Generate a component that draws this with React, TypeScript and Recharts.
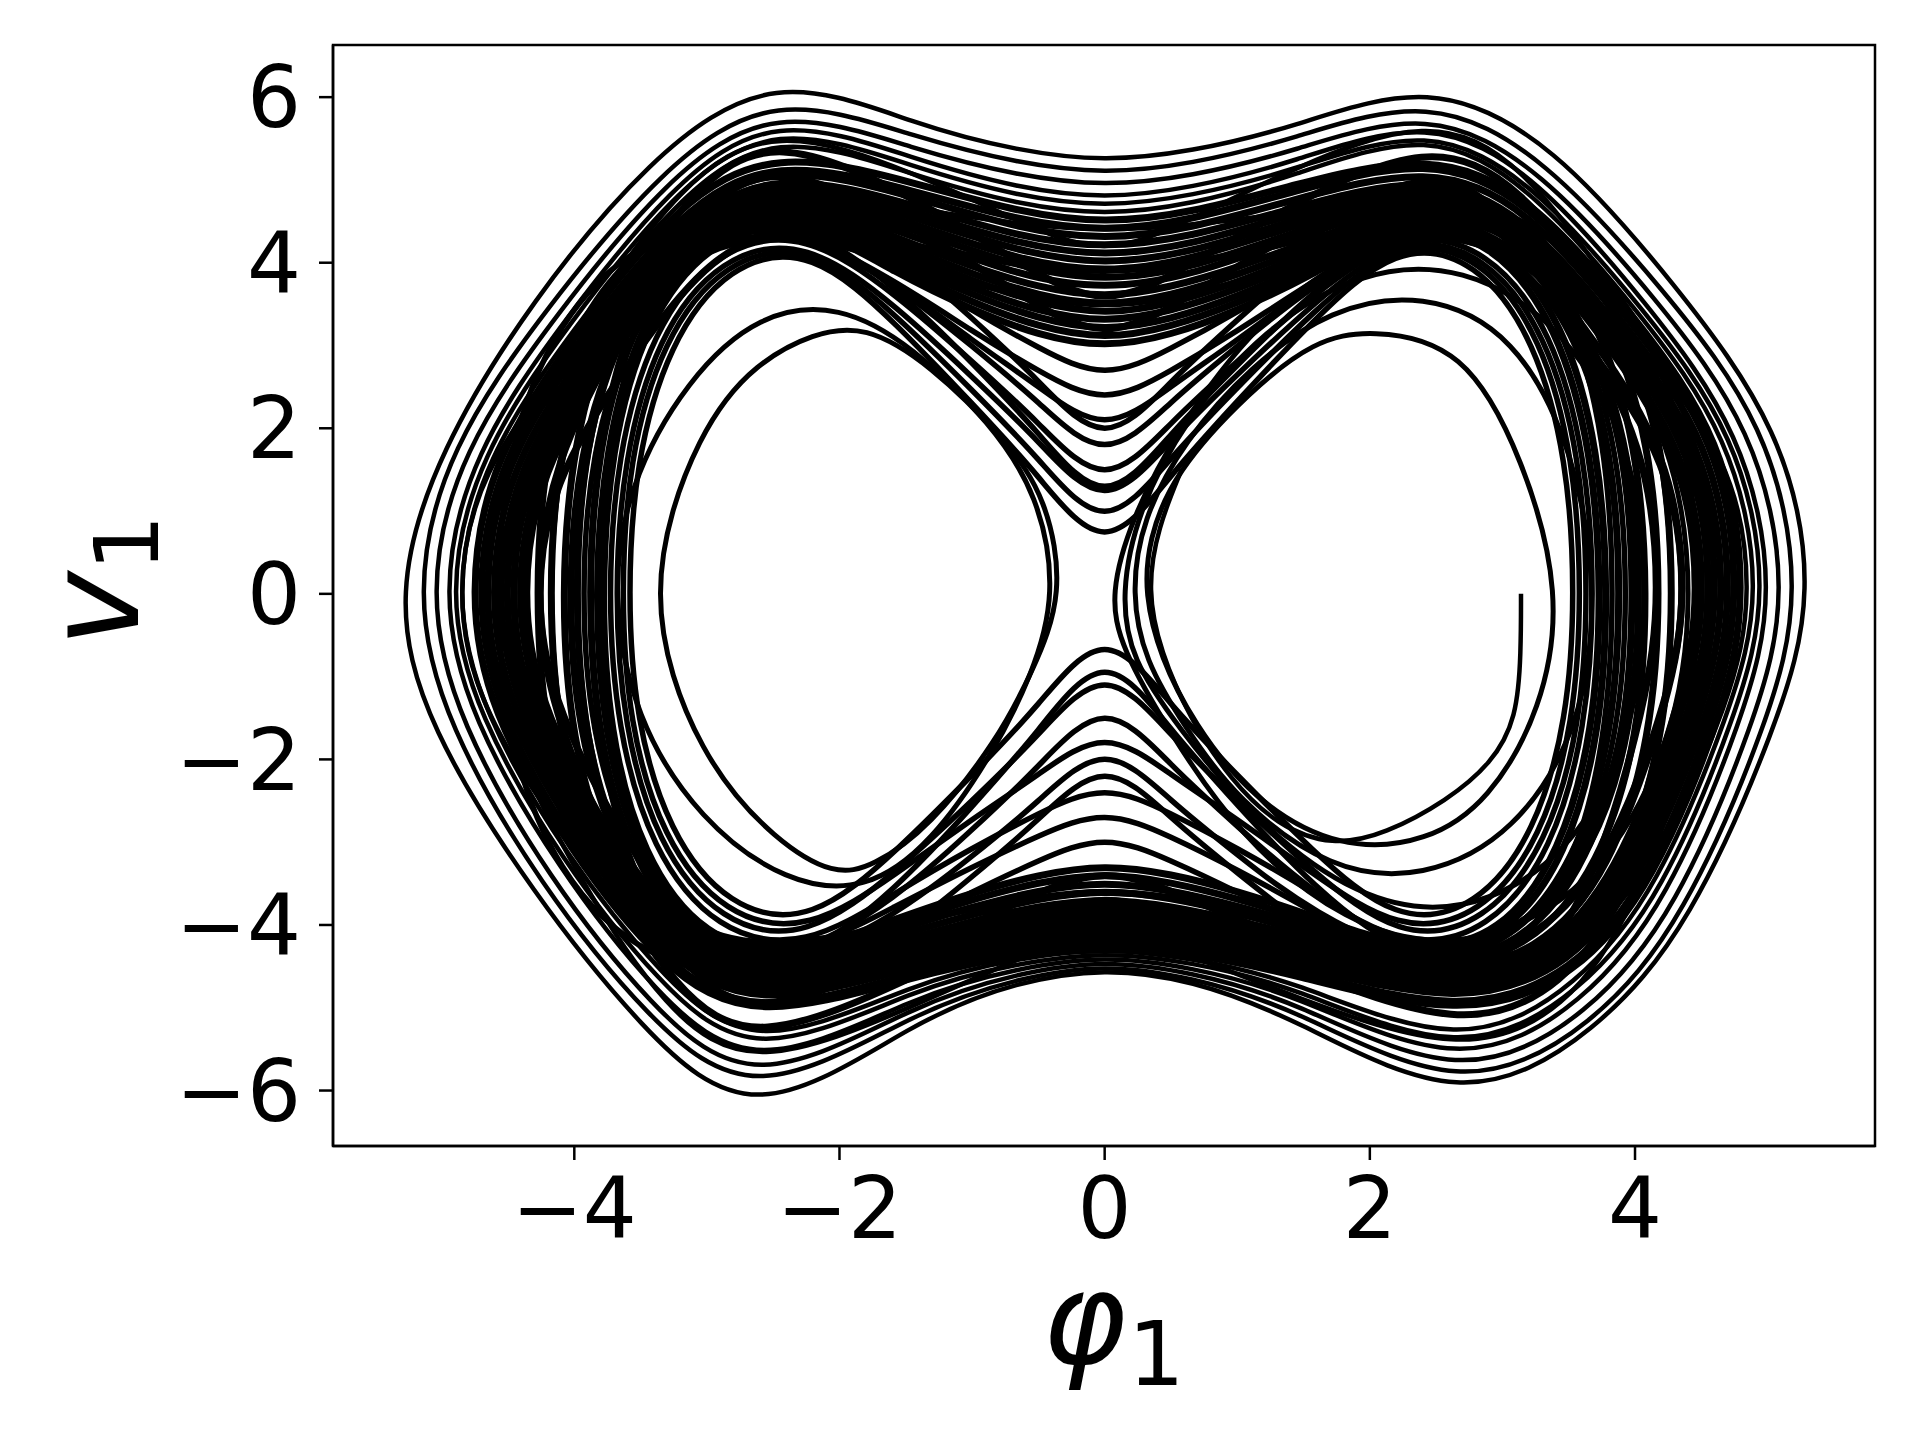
import React from 'react';
import { LineChart, Line, XAxis, YAxis, ReferenceArea, Customized } from 'recharts';

type Pt = [number, number];

// axis setup
const X_DOMAIN: [number, number] = [-5.82, 5.81];
const Y_DOMAIN: [number, number] = [-6.67, 6.63];
const xTicks = [-4, -2, 0, 2, 4];
const yTicks = [-6, -4, -2, 0, 2, 4, 6];

// trajectory loops, [phi1, v1] control points
const loop01: Pt[] = [[5.37,0],[5.12,2.0],[4.3,3.75],[3.39,5.45],[2.45,6.23],[1.4,5.62],[0.65,5.34],[0,5.22],[-0.65,5.35],[-1.4,5.65],[-2.5,6.35],[-3.45,5.25],[-4.32,3.55],[-5.02,1.75],[-5.37,0],[-5.12,-1.6],[-4.3,-3.65],[-3.5,-5.25],[-2.65,-6.48],[-1.4,-5.12],[-0.65,-4.68],[0,-4.52],[0.65,-4.66],[1.4,-5.1],[2.7,-6.25],[3.72,-5.3],[4.42,-4.0],[5.07,-1.6]];
const loop02: Pt[] = [[5.27,0],[5.01,2.05],[4.21,3.69],[3.33,5.27],[2.45,6.05],[1.4,5.48],[0.65,5.19],[0,5.07],[-0.65,5.2],[-1.4,5.5],[-2.5,6.1],[-3.35,5.13],[-4.2,3.48],[-4.96,1.77],[-5.22,0],[-4.97,-1.59],[-4.25,-3.54],[-3.45,-5.13],[-2.65,-6.2],[-1.4,-5.02],[-0.65,-4.64],[0,-4.47],[0.65,-4.63],[1.4,-4.98],[2.7,-6.1],[3.7,-5.22],[4.37,-3.94],[5.0,-1.57]];
const loop03: Pt[] = [[5.17,0],[4.91,2.0],[4.15,3.59],[3.3,5.13],[2.45,5.9],[1.4,5.33],[0.65,5.04],[0,4.92],[-0.65,5.05],[-1.4,5.35],[-2.5,5.95],[-3.32,5.0],[-4.13,3.39],[-4.87,1.73],[-5.12,0],[-4.88,-1.55],[-4.19,-3.45],[-3.42,-5.0],[-2.65,-6.05],[-1.4,-4.93],[-0.65,-4.58],[0,-4.42],[0.65,-4.57],[1.4,-4.89],[2.7,-5.95],[3.66,-5.09],[4.31,-3.84],[4.91,-1.53]];
const loop04: Pt[] = [[5.07,0],[4.82,1.96],[4.08,3.53],[3.27,5.04],[2.45,5.8],[1.4,5.2],[0.65,4.9],[0,4.77],[-0.65,4.9],[-1.4,5.23],[-2.5,5.85],[-3.28,4.92],[-4.07,3.33],[-4.78,1.7],[-5.02,0],[-4.79,-1.5],[-4.12,-3.33],[-3.39,-4.83],[-2.65,-5.85],[-1.4,-4.83],[-0.65,-4.52],[0,-4.37],[0.65,-4.51],[1.4,-4.81],[2.7,-5.8],[3.62,-4.95],[4.24,-3.74],[4.82,-1.49]];
const loop05: Pt[] = [[5.02,0],[4.78,1.93],[4.05,3.47],[3.25,4.95],[2.45,5.7],[1.4,5.1],[0.65,4.8],[0,4.67],[-0.65,4.8],[-1.4,5.13],[-2.5,5.75],[-3.27,4.83],[-4.04,3.27],[-4.73,1.67],[-4.97,0],[-4.74,-1.46],[-4.09,-3.24],[-3.37,-4.7],[-2.65,-5.7],[-1.4,-4.74],[-0.65,-4.46],[0,-4.32],[0.65,-4.45],[1.4,-4.72],[2.7,-5.65],[3.6,-4.82],[4.21,-3.64],[4.77,-1.44]];
const loop06: Pt[] = [[4.97,0],[4.73,1.91],[4.02,3.43],[3.23,4.9],[2.45,5.65],[1.4,5.03],[0.65,4.7],[0,4.57],[-0.65,4.7],[-1.4,5.03],[-2.5,5.65],[-3.25,4.74],[-4.0,3.22],[-4.69,1.64],[-4.92,0],[-4.7,-1.43],[-4.06,-3.18],[-3.35,-4.61],[-2.65,-5.6],[-1.4,-4.67],[-0.65,-4.4],[0,-4.27],[0.65,-4.4],[1.4,-4.65],[2.7,-5.55],[3.58,-4.73],[4.17,-3.57],[4.72,-1.42]];
const loop32: Pt[] = [[4.9,0],[4.73,1.68],[4.02,3.02],[3.23,4.32],[2.45,4.8],[1.4,4.6],[0.65,4.45],[0,4.38],[-0.65,4.46],[-1.4,4.65],[-2.5,4.9],[-3.27,4.26],[-4.04,2.89],[-4.73,1.47],[-4.9,0],[-4.74,-1.32],[-4.09,-2.94],[-3.37,-4.26],[-2.65,-4.9],[-1.4,-4.52],[-0.65,-4.36],[0,-4.3],[0.65,-4.35],[1.4,-4.5],[2.7,-4.8],[3.58,-4.32],[4.17,-3.26],[4.72,-1.3]];
const loop36: Pt[] = [[4.65,0],[4.5,2.03],[3.86,3.65],[3.15,5.22],[2.45,5.8],[1.4,5.13],[0.65,4.52],[0,4.05],[-0.65,4.5],[-1.4,5.07],[-2.5,5.7],[-3.2,4.96],[-3.91,3.36],[-4.55,1.71],[-4.7,0],[-4.56,-1.57],[-3.96,-3.48],[-3.31,-5.05],[-2.65,-5.8],[-1.4,-4.95],[-0.65,-4.41],[0,-3.96],[0.65,-4.37],[1.4,-4.85],[2.7,-5.6],[3.48,-5.04],[4.01,-3.81],[4.49,-1.51]];

const loop07: Pt[] = [[4.85,0],[4.68,1.87],[3.99,3.37],[3.22,4.82],[2.45,5.35],[1.4,4.93],[0.65,4.6],[0,4.47],[-0.65,4.61],[-1.4,4.95],[-2.5,5.4],[-3.24,4.7],[-3.97,3.19],[-4.64,1.62],[-4.8,0],[-4.65,-1.4],[-4.03,-3.12],[-3.34,-4.52],[-2.65,-5.2],[-1.4,-4.6],[-0.65,-4.35],[0,-4.22],[0.65,-4.34],[1.4,-4.58],[2.7,-5.15],[3.56,-4.64],[4.14,-3.5],[4.68,-1.39]];
const loop08: Pt[] = [[4.8,0],[4.64,1.86],[3.95,3.34],[3.2,4.77],[2.45,5.3],[1.4,4.85],[0.65,4.51],[0,4.37],[-0.65,4.51],[-1.4,4.85],[-2.5,5.3],[-3.22,4.61],[-3.94,3.13],[-4.59,1.59],[-4.75,0],[-4.6,-1.39],[-4.0,-3.09],[-3.32,-4.48],[-2.65,-5.15],[-1.4,-4.55],[-0.65,-4.3],[0,-4.17],[0.65,-4.29],[1.4,-4.53],[2.7,-5.1],[3.54,-4.59],[4.11,-3.47],[4.63,-1.38]];
const loop09: Pt[] = [[4.75,0],[4.59,1.82],[3.92,3.28],[3.19,4.68],[2.45,5.2],[1.4,4.75],[0.65,4.41],[0,4.27],[-0.65,4.41],[-1.4,4.78],[-2.5,5.25],[-3.2,4.57],[-3.91,3.1],[-4.55,1.58],[-4.7,0],[-4.56,-1.36],[-3.96,-3.03],[-3.31,-4.39],[-2.65,-5.05],[-1.4,-4.48],[-0.65,-4.24],[0,-4.12],[0.65,-4.24],[1.4,-4.46],[2.7,-5.0],[3.52,-4.5],[4.07,-3.4],[4.59,-1.35]];
const loop10: Pt[] = [[4.7,0],[4.54,1.79],[3.89,3.21],[3.17,4.59],[2.45,5.1],[1.4,4.65],[0.65,4.31],[0,4.17],[-0.65,4.31],[-1.4,4.68],[-2.5,5.15],[-3.19,4.48],[-3.88,3.04],[-4.5,1.55],[-4.65,0],[-4.51,-1.35],[-3.93,-3.0],[-3.29,-4.35],[-2.65,-5.0],[-1.4,-4.43],[-0.65,-4.19],[0,-4.07],[0.65,-4.19],[1.4,-4.41],[2.7,-4.95],[3.5,-4.46],[4.04,-3.37],[4.54,-1.34]];
const loop11: Pt[] = [[4.65,0],[4.5,1.77],[3.86,3.18],[3.15,4.55],[2.45,5.05],[1.4,4.58],[0.65,4.21],[0,4.07],[-0.65,4.22],[-1.4,4.6],[-2.5,5.1],[-3.17,4.44],[-3.84,3.01],[-4.45,1.53],[-4.6,0],[-4.46,-1.34],[-3.9,-2.97],[-3.27,-4.31],[-2.65,-4.95],[-1.4,-4.38],[-0.65,-4.14],[0,-4.02],[0.65,-4.14],[1.4,-4.36],[2.7,-4.9],[3.48,-4.41],[4.01,-3.33],[4.49,-1.32]];
const loop12: Pt[] = [[4.6,0],[4.45,1.75],[3.83,3.15],[3.14,4.5],[2.45,5.0],[1.4,4.5],[0.65,4.12],[0,3.97],[-0.65,4.13],[-1.4,4.53],[-2.5,5.05],[-3.16,4.39],[-3.81,2.98],[-4.41,1.52],[-4.55,0],[-4.42,-1.32],[-3.87,-2.94],[-3.26,-4.26],[-2.65,-4.9],[-1.4,-4.33],[-0.65,-4.09],[0,-3.97],[0.65,-4.09],[1.4,-4.31],[2.7,-4.85],[3.46,-4.37],[3.97,-3.3],[4.45,-1.31]];
const loop13: Pt[] = [[4.55,0],[4.4,1.73],[3.79,3.12],[3.12,4.46],[2.45,4.95],[1.4,4.43],[0.65,4.03],[0,3.87],[-0.65,4.03],[-1.4,4.45],[-2.5,5.0],[-3.14,4.35],[-3.78,2.95],[-4.36,1.5],[-4.5,0],[-4.37,-1.31],[-3.83,-2.91],[-3.24,-4.22],[-2.65,-4.85],[-1.4,-4.28],[-0.65,-4.04],[0,-3.92],[0.65,-4.04],[1.4,-4.26],[2.7,-4.8],[3.44,-4.32],[3.94,-3.26],[4.4,-1.3]];
const loop14: Pt[] = [[4.5,0],[4.36,1.72],[3.76,3.09],[3.11,4.41],[2.45,4.9],[1.4,4.35],[0.65,3.93],[0,3.77],[-0.65,3.94],[-1.4,4.38],[-2.5,4.95],[-3.12,4.31],[-3.75,2.92],[-4.31,1.49],[-4.45,0],[-4.32,-1.3],[-3.8,-2.88],[-3.23,-4.18],[-2.65,-4.8],[-1.4,-4.23],[-0.65,-3.99],[0,-3.87],[0.65,-3.99],[1.4,-4.21],[2.7,-4.75],[3.42,-4.28],[3.91,-3.23],[4.36,-1.28]];
const loop15: Pt[] = [[4.4,0],[4.26,1.7],[3.7,3.06],[3.07,4.37],[2.45,4.85],[1.4,4.28],[0.65,3.84],[0,3.67],[-0.65,3.84],[-1.4,4.3],[-2.5,4.9],[-3.11,4.26],[-3.72,2.89],[-4.27,1.47],[-4.4,0],[-4.28,-1.28],[-3.77,-2.85],[-3.21,-4.13],[-2.65,-4.75],[-1.4,-4.18],[-0.65,-3.94],[0,-3.82],[0.65,-3.94],[1.4,-4.16],[2.7,-4.7],[3.38,-4.23],[3.84,-3.2],[4.26,-1.27]];
const loop16: Pt[] = [[4.3,0],[4.22,1.82],[3.89,3.46],[3.27,4.56],[2.43,4.8],[1.55,4.26],[1.0,3.94],[0.5,3.7],[0,3.57],[-0.5,3.7],[-1.0,3.95],[-1.55,4.29],[-2.43,4.85],[-3.27,4.61],[-3.89,3.49],[-4.22,1.84],[-4.3,0],[-4.22,-1.79],[-3.91,-3.38],[-3.33,-4.47],[-2.53,-4.7],[-1.55,-4.3],[-1.0,-4.05],[-0.5,-3.87],[0,-3.77],[0.5,-3.87],[1.0,-4.04],[1.55,-4.27],[2.53,-4.65],[3.33,-4.42],[3.91,-3.35],[4.22,-1.77]];
const loop17: Pt[] = [[4.2,0],[4.12,1.81],[3.8,3.42],[3.21,4.51],[2.4,4.75],[1.55,4.19],[1.0,3.85],[0.5,3.6],[0,3.47],[-0.5,3.6],[-1.0,3.86],[-1.55,4.22],[-2.4,4.8],[-3.21,4.56],[-3.8,3.46],[-4.12,1.82],[-4.2,0],[-4.12,-1.77],[-3.83,-3.35],[-3.27,-4.42],[-2.5,-4.65],[-1.55,-4.25],[-1.0,-4.0],[-0.5,-3.82],[0,-3.72],[0.5,-3.82],[1.0,-3.99],[1.55,-4.22],[2.5,-4.6],[3.27,-4.37],[3.83,-3.31],[4.12,-1.75]];
const loop18: Pt[] = [[4.1,0],[4.02,1.79],[3.72,3.38],[3.15,4.47],[2.37,4.7],[1.55,4.12],[1.0,3.76],[0.5,3.5],[0,3.37],[-0.5,3.51],[-1.0,3.78],[-1.55,4.14],[-2.37,4.75],[-3.15,4.51],[-3.72,3.42],[-4.02,1.81],[-4.1,0],[-4.03,-1.75],[-3.74,-3.31],[-3.2,-4.37],[-2.47,-4.6],[-1.55,-4.2],[-1.0,-3.95],[-0.5,-3.77],[0,-3.67],[0.5,-3.77],[1.0,-3.94],[1.55,-4.17],[2.47,-4.55],[3.2,-4.32],[3.74,-3.28],[4.03,-1.73]];
const loop19: Pt[] = [[4.0,0],[3.93,1.77],[3.63,3.35],[3.09,4.42],[2.34,4.65],[1.55,4.04],[1.0,3.68],[0.5,3.41],[0,3.27],[-0.5,3.41],[-1.0,3.69],[-1.55,4.07],[-2.34,4.7],[-3.09,4.47],[-3.63,3.38],[-3.93,1.79],[-4.0,0],[-3.93,-1.73],[-3.66,-3.28],[-3.14,-4.32],[-2.44,-4.55],[-1.55,-4.12],[-1.0,-3.87],[-0.5,-3.68],[0,-3.57],[0.5,-3.67],[1.0,-3.85],[1.55,-4.1],[2.44,-4.5],[3.14,-4.28],[3.66,-3.24],[3.93,-1.71]];
const loop20: Pt[] = [[3.9,0],[3.83,1.75],[3.55,3.31],[3.03,4.37],[2.31,4.6],[1.55,3.97],[1.0,3.59],[0.5,3.31],[0,3.17],[-0.5,3.32],[-1.0,3.61],[-1.55,4.0],[-2.31,4.65],[-3.03,4.42],[-3.55,3.35],[-3.83,1.77],[-3.9,0],[-3.83,-1.71],[-3.57,-3.24],[-3.08,-4.28],[-2.41,-4.5],[-1.55,-4.05],[-1.0,-3.78],[-0.5,-3.58],[0,-3.47],[0.5,-3.58],[1.0,-3.77],[1.55,-4.02],[2.41,-4.45],[3.08,-4.23],[3.57,-3.2],[3.83,-1.69]];
const loop21: Pt[] = [[3.8,0],[3.73,1.73],[3.47,3.28],[2.96,4.32],[2.28,4.55],[1.55,3.9],[1.0,3.51],[0.5,3.22],[0,3.07],[-0.5,3.22],[-1.0,3.52],[-1.55,3.93],[-2.29,4.6],[-2.99,4.37],[-3.51,3.31],[-3.77,1.75],[-3.85,0],[-3.78,-1.69],[-3.53,-3.2],[-3.05,-4.23],[-2.39,-4.45],[-1.55,-3.98],[-1.0,-3.69],[-0.5,-3.48],[0,-3.37],[0.5,-3.48],[1.0,-3.68],[1.55,-3.95],[2.38,-4.4],[3.02,-4.18],[3.49,-3.17],[3.74,-1.67]];
const loop22: Pt[] = [[3.75,0],[3.68,1.71],[3.42,3.24],[2.93,4.28],[2.26,4.5],[1.55,3.83],[1.0,3.42],[0.5,3.12],[0,2.97],[-0.5,3.12],[-1.0,3.43],[-1.55,3.85],[-2.28,4.55],[-2.96,4.32],[-3.47,3.28],[-3.73,1.73],[-3.8,0],[-3.74,-1.67],[-3.49,-3.17],[-3.02,-4.18],[-2.38,-4.4],[-1.55,-3.91],[-1.0,-3.61],[-0.5,-3.39],[0,-3.27],[0.5,-3.38],[1.0,-3.59],[1.55,-3.88],[2.36,-4.35],[2.99,-4.13],[3.44,-3.13],[3.69,-1.65]];
const loop31: Pt[] = [[4.6,0],[4.45,1.93],[3.83,3.47],[3.14,4.95],[2.45,5.5],[1.4,4.7],[0.65,3.98],[0,3.4],[-0.65,4.0],[-1.4,4.76],[-2.5,5.6],[-3.14,4.87],[-3.78,3.3],[-4.36,1.68],[-4.5,0],[-4.37,-1.49],[-3.83,-3.3],[-3.24,-4.79],[-2.65,-5.5],[-1.4,-4.6],[-0.65,-4.02],[0,-3.55],[0.65,-3.99],[1.4,-4.5],[2.7,-5.3],[3.46,-4.77],[3.97,-3.6],[4.45,-1.43]];
const loop33: Pt[] = [[4.2,0],[4.08,1.82],[3.57,3.28],[3.01,4.68],[2.45,5.2],[1.4,4.36],[0.65,3.6],[0,3.0],[-0.65,3.62],[-1.4,4.42],[-2.5,5.3],[-3.08,4.61],[-3.65,3.13],[-4.17,1.59],[-4.3,0],[-4.18,-1.4],[-3.71,-3.12],[-3.18,-4.52],[-2.65,-5.2],[-1.4,-4.3],[-0.65,-3.72],[0,-3.25],[0.65,-3.69],[1.4,-4.2],[2.7,-5.0],[3.3,-4.5],[3.71,-3.4],[4.08,-1.35]];
const loop34: Pt[] = [[4.4,0],[4.26,1.61],[3.7,2.9],[3.07,4.14],[2.45,4.6],[1.4,4.25],[0.65,3.98],[0,3.87],[-0.65,3.97],[-1.4,4.2],[-2.5,4.5],[-3.08,3.92],[-3.65,2.66],[-4.17,1.35],[-4.3,0],[-4.18,-1.24],[-3.71,-2.76],[-3.18,-4.0],[-2.65,-4.6],[-1.4,-4.22],[-0.65,-4.06],[0,-3.98],[0.65,-4.05],[1.4,-4.19],[2.7,-4.5],[3.38,-4.05],[3.84,-3.06],[4.26,-1.22]];
const loop37: Pt[] = [[4.05,0],[3.97,1.67],[3.68,3.17],[3.12,4.18],[2.35,4.4],[1.55,4.0],[1.0,3.75],[0.5,3.57],[0,3.47],[-0.5,3.57],[-1.0,3.75],[-1.55,4.0],[-2.35,4.4],[-3.12,4.18],[-3.68,3.17],[-3.97,1.67],[-4.05,0],[-3.98,-1.63],[-3.7,-3.1],[-3.17,-4.09],[-2.45,-4.3],[-1.55,-3.99],[-1.0,-3.8],[-0.5,-3.66],[0,-3.58],[0.5,-3.66],[1.0,-3.8],[1.55,-3.99],[2.45,-4.3],[3.17,-4.09],[3.7,-3.1],[3.98,-1.63]];

// loops dipping deep into the funnels above and below the saddle
const loop23: Pt[] = [[4.5,0],[4.41,1.79],[4.06,3.38],[3.39,4.47],[2.49,4.7],[1.55,3.94],[1.0,3.4],[0.5,2.96],[0,2.57],[-0.5,2.97],[-1.0,3.42],[-1.55,3.97],[-2.46,4.75],[-3.33,4.51],[-3.97,3.42],[-4.31,1.81],[-4.4,0],[-4.31,-1.75],[-3.97,-3.31],[-3.33,-4.37],[-2.46,-4.6],[-1.55,-3.87],[-1.0,-3.17],[-0.5,-2.52],[0,-1.74],[0.5,-2.51],[1.0,-3.15],[1.55,-3.84],[2.49,-4.55],[3.39,-4.32],[4.06,-3.28],[4.41,-1.73]];
const loop24: Pt[] = [[4.3,0],[4.22,1.75],[3.89,3.31],[3.27,4.37],[2.43,4.6],[1.55,3.76],[1.0,3.17],[0.5,2.69],[0,2.26],[-0.5,2.69],[-1.0,3.17],[-1.55,3.76],[-2.52,4.6],[-3.46,4.37],[-4.14,3.31],[-4.51,1.75],[-4.6,0],[-4.51,-1.79],[-4.14,-3.38],[-3.46,-4.47],[-2.52,-4.7],[-1.55,-4.05],[-1.0,-3.6],[-0.5,-3.22],[0,-2.89],[0.5,-3.22],[1.0,-3.6],[1.55,-4.05],[2.43,-4.7],[3.27,-4.47],[3.89,-3.38],[4.22,-1.79]];
const loop25: Pt[] = [[4.0,0],[3.93,1.71],[3.63,3.24],[3.09,4.28],[2.34,4.5],[1.55,3.73],[1.0,3.06],[0.5,2.51],[0,1.9],[-0.5,2.51],[-1.0,3.06],[-1.55,3.73],[-2.4,4.5],[-3.21,4.28],[-3.8,3.24],[-4.12,1.71],[-4.2,0],[-4.12,-1.71],[-3.8,-3.24],[-3.21,-4.28],[-2.4,-4.5],[-1.55,-3.66],[-1.0,-2.85],[-0.5,-2.1],[0,-1.21],[0.5,-2.08],[1.0,-2.81],[1.55,-3.59],[2.34,-4.4],[3.09,-4.18],[3.63,-3.17],[3.93,-1.67]];
const loop26: Pt[] = [[3.9,0],[3.83,1.69],[3.55,3.2],[3.03,4.23],[2.31,4.45],[1.55,3.71],[1.0,2.99],[0.5,2.33],[0,1.54],[-0.5,2.33],[-1.0,2.99],[-1.55,3.71],[-2.32,4.45],[-3.05,4.23],[-3.59,3.2],[-3.88,1.69],[-3.95,0],[-3.88,-1.67],[-3.59,-3.17],[-3.05,-4.18],[-2.32,-4.4],[-1.55,-3.75],[-1.0,-3.3],[-0.5,-2.92],[0,-2.59],[0.5,-2.93],[1.0,-3.33],[1.55,-3.82],[2.31,-4.5],[3.03,-4.28],[3.55,-3.24],[3.83,-1.71]];
const loop27: Pt[] = [[3.7,0],[3.63,1.67],[3.38,3.17],[2.9,4.18],[2.25,4.4],[1.55,3.59],[1.0,2.81],[0.5,2.08],[0,1.21],[-0.5,2.08],[-1.0,2.81],[-1.55,3.59],[-2.26,4.4],[-2.93,4.18],[-3.42,3.17],[-3.68,1.67],[-3.75,0],[-3.68,-1.63],[-3.42,-3.1],[-2.93,-4.09],[-2.26,-4.3],[-1.55,-3.58],[-1.0,-3.07],[-0.5,-2.65],[0,-2.28],[0.5,-2.65],[1.0,-3.07],[1.55,-3.58],[2.25,-4.3],[2.9,-4.09],[3.38,-3.1],[3.63,-1.63]];
const loop28: Pt[] = [[3.65,0],[3.59,1.65],[3.34,3.13],[2.87,4.13],[2.23,4.35],[1.55,3.48],[1.0,2.65],[0.5,1.87],[0,0.94],[-0.5,1.86],[-1.0,2.62],[-1.55,3.45],[-2.25,4.3],[-2.9,4.09],[-3.38,3.1],[-3.63,1.63],[-3.7,0],[-3.63,-1.6],[-3.38,-3.02],[-2.9,-3.99],[-2.25,-4.2],[-1.55,-3.33],[-1.0,-2.5],[-0.5,-1.72],[0,-0.79],[0.5,-1.72],[1.0,-2.5],[1.55,-3.33],[2.23,-4.2],[2.87,-3.99],[3.34,-3.02],[3.59,-1.6]];
const loop29: Pt[] = [[3.6,0],[3.54,1.63],[3.3,3.1],[2.84,4.09],[2.22,4.3],[1.55,3.38],[1.0,2.49],[0.5,1.66],[0,0.67],[-0.5,1.65],[-1.0,2.46],[-1.55,3.34],[-2.23,4.25],[-2.87,4.04],[-3.34,3.06],[-3.59,1.62],[-3.65,0],[-3.59,-1.56],[-3.34,-2.95],[-2.87,-3.9],[-2.23,-4.1],[-1.55,-3.36],[-1.0,-2.72],[-0.5,-2.19],[0,-1.6],[0.5,-2.19],[1.0,-2.72],[1.55,-3.36],[2.22,-4.1],[2.84,-3.9],[3.3,-2.95],[3.54,-1.56]];
const loop30: Pt[] = [[3.55,0],[3.49,1.62],[3.25,3.06],[2.81,4.04],[2.2,4.25],[1.55,3.27],[1.0,2.33],[0.5,1.45],[0,0.4],[-0.5,1.44],[-1.0,2.3],[-1.55,3.23],[-2.21,4.2],[-2.84,3.99],[-3.29,3.02],[-3.54,1.6],[-3.6,0],[-3.54,-1.52],[-3.29,-2.88],[-2.84,-3.8],[-2.21,-4.0],[-1.55,-3.08],[-1.0,-2.19],[-0.5,-1.36],[0,-0.33],[0.5,-1.36],[1.0,-2.19],[1.55,-3.08],[2.2,-4.0],[2.81,-3.8],[3.25,-2.88],[3.49,-1.52]];
const loop35: Pt[] = [[3.85,0],[3.78,1.86],[3.51,3.53],[2.99,4.66],[2.29,4.9],[1.55,4.09],[1.0,3.31],[0.5,2.58],[0,1.71],[-0.5,2.59],[-1.0,3.33],[-1.55,4.12],[-2.31,4.95],[-3.03,4.7],[-3.55,3.56],[-3.83,1.88],[-3.9,0],[-3.83,-1.86],[-3.55,-3.53],[-3.03,-4.66],[-2.31,-4.9],[-1.55,-4.14],[-1.0,-3.42],[-0.5,-2.74],[0,-1.94],[0.5,-2.72],[1.0,-3.37],[1.55,-4.07],[2.29,-4.8],[2.99,-4.56],[3.51,-3.46],[3.78,-1.82]];
const loop38: Pt[] = [[3.95,0],[3.88,1.73],[3.59,3.28],[3.05,4.32],[2.32,4.55],[1.55,3.64],[1.0,2.76],[0.5,1.95],[0,0.97],[-0.5,1.96],[-1.0,2.79],[-1.55,3.68],[-2.34,4.6],[-3.09,4.37],[-3.63,3.31],[-3.93,1.75],[-4.0,0],[-3.93,-1.73],[-3.63,-3.28],[-3.09,-4.32],[-2.34,-4.55],[-1.55,-3.54],[-1.0,-2.57],[-0.5,-1.67],[0,-0.59],[0.5,-1.66],[1.0,-2.55],[1.55,-3.51],[2.32,-4.5],[3.05,-4.28],[3.59,-3.24],[3.88,-1.71]];

// loops that stay round one well only
const leftLobe1: Pt[] = [[-0.3,0],[-0.44,1.17],[-0.74,1.85],[-1.32,2.78],[-1.81,3.25],[-2.2,3.15],[-2.62,2.8],[-3.05,2.04],[-3.5,0],[-3.05,-2.01],[-2.47,-3.0],[-2.04,-3.4],[-1.75,-3.3],[-1.32,-2.82],[-0.81,-1.77],[-0.55,-0.96]];
const leftLobe2: Pt[] = [[-0.36,0],[-0.5,1.2],[-0.85,2.05],[-1.45,3.0],[-2.0,3.5],[-2.6,3.4],[-3.15,2.6],[-3.6,1.3],[-3.72,0],[-3.55,-1.5],[-3.05,-2.75],[-2.4,-3.5],[-1.8,-3.6],[-1.3,-3.0],[-0.85,-1.95],[-0.55,-1.0]];
const rightLobe1: Pt[] = [[0.3,0],[0.33,0.65],[0.52,1.46],[1.1,2.46],[1.58,3.06],[2.0,3.2],[2.71,3.0],[3.16,1.63],[3.45,0],[3.3,-1.4],[2.9,-2.5],[2.44,-3.0],[1.77,-3.1],[1.1,-2.47],[0.67,-1.56],[0.42,-0.77]];
const rightLobe2: Pt[] = [[0.2,0],[0.28,0.9],[0.6,1.85],[1.1,2.75],[1.7,3.45],[2.4,3.65],[3.1,3.15],[3.55,1.7],[3.72,0],[3.6,-1.6],[3.1,-2.9],[2.4,-3.45],[1.7,-3.35],[1.0,-2.5],[0.6,-1.6],[0.3,-0.8]];
const rightLobe3: Pt[] = [[0.12,0],[0.25,1.0],[0.6,2.1],[1.2,3.2],[1.9,3.9],[2.7,4.0],[3.5,3.2],[4.0,1.7],[4.1,0],[4.0,-1.7],[3.5,-3.2],[2.7,-3.9],[1.9,-3.7],[1.1,-2.7],[0.55,-1.6],[0.2,-0.8]];
const rightLobe4: Pt[] = [[0.04,0],[0.2,0.9],[0.55,2.0],[1.15,3.3],[1.9,4.2],[2.7,4.45],[3.7,3.5],[4.3,1.8],[4.45,0],[4.3,-1.8],[3.7,-3.6],[2.7,-4.35],[1.8,-4.0],[1.0,-2.9],[0.5,-1.7],[0.12,-0.65]];

// the start of the run at (pi, 0)
const startArc: Pt[] = [[3.14,0],[3.14,-0.7],[3.11,-1.5],[2.92,-2.05],[2.58,-2.5],[2.12,-2.9],[1.72,-3.05],[1.3,-2.8],[0.95,-2.25],[0.64,-1.5],[0.42,-0.7],[0.32,0.05],[0.4,0.8],[0.58,1.5]];

const outerLoops = [loop01, loop02, loop03, loop04, loop05, loop06, loop32, loop36];
const denseLoops = [
  loop07, loop08, loop09, loop10, loop11, loop12, loop13, loop14, loop15, loop16,
  loop17, loop18, loop19, loop20, loop21, loop22, loop31, loop33, loop34, loop37,
];
const funnelLoops = [loop23, loop24, loop25, loop26, loop27, loop28, loop29, loop30, loop35, loop38];
const lobeLoops = [leftLobe1, leftLobe2, rightLobe1, rightLobe2, rightLobe3, rightLobe4];

const toRows = (pts: Pt[]) => pts.map(([x, y]) => ({ x, y }));

const INK = '#000';
const FONT = "'DejaVu Sans', sans-serif";

const fmtTick = (v: number) => (v < 0 ? `\u2212${Math.abs(v)}` : `${v}`);

const AxisTitles = () => (
  <g fontFamily={FONT} fill="#000">
    <text transform="translate(138,647) rotate(-90)" fontSize={128}>
      <tspan fontStyle="italic">v</tspan>
      <tspan fontSize={89} dy={20}>1</tspan>
    </text>
    <text x={1042} y={1363} fontSize={128} fontStyle="italic">φ</text>
    <text x={1128} y={1385} fontSize={89}>1</text>
  </g>
);

const groups: { name: string; loops: Pt[][]; width: number }[] = [
  { name: 'outer', loops: outerLoops, width: 4.5 },
  { name: 'dense', loops: denseLoops, width: 7 },
  { name: 'funnel', loops: funnelLoops, width: 5.5 },
  { name: 'lobe', loops: lobeLoops, width: 5 },
];

const App: React.FC = () => {
  return (
    <div style={{ position: 'absolute', left: 0, top: 0, width: 1920, height: 1440, background: '#fff' }}>
      <LineChart width={1920} height={1440} margin={{ top: 45, right: 45, bottom: 0, left: 0 }}>
        <XAxis
          type="number"
          dataKey="x"
          domain={X_DOMAIN}
          ticks={xTicks}
          interval={0}
          allowDataOverflow
          height={294}
          tickSize={14}
          tickMargin={18}
          tickFormatter={fmtTick}
          stroke="#000"
          axisLine={{ strokeWidth: 2.5 }}
          tickLine={{ strokeWidth: 2.5 }}
          tick={{ fontSize: 85, fill: '#000', fontFamily: FONT }}
        />
        <YAxis
          type="number"
          dataKey="y"
          domain={Y_DOMAIN}
          ticks={yTicks}
          interval={0}
          allowDataOverflow
          width={333}
          tickSize={14}
          tickMargin={18}
          tickFormatter={fmtTick}
          stroke="#000"
          axisLine={{ strokeWidth: 2.5 }}
          tickLine={{ strokeWidth: 2.5 }}
          tick={{ fontSize: 85, fill: '#000', fontFamily: FONT }}
        />
        <ReferenceArea
          x1={X_DOMAIN[0]}
          x2={X_DOMAIN[1]}
          y1={Y_DOMAIN[0]}
          y2={Y_DOMAIN[1]}
          fill="none"
          stroke="#000"
          strokeWidth={2.5}
          ifOverflow="visible"
        />
        {groups.map((g) =>
          g.loops.map((pts, i) => (
            <Line
              key={`${g.name}-${i}`}
              data={toRows(pts)}
              dataKey="y"
              type="basisClosed"
              stroke={INK}
              strokeWidth={g.width}
              dot={false}
              activeDot={false}
              legendType="none"
              isAnimationActive={false}
            />
          ))
        )}
        <Line
          data={toRows(startArc)}
          dataKey="y"
          type="basis"
          stroke={INK}
          strokeWidth={4.5}
          dot={false}
          activeDot={false}
          legendType="none"
          isAnimationActive={false}
        />
        <Customized component={AxisTitles} />
      </LineChart>
    </div>
  );
};

export default App;
